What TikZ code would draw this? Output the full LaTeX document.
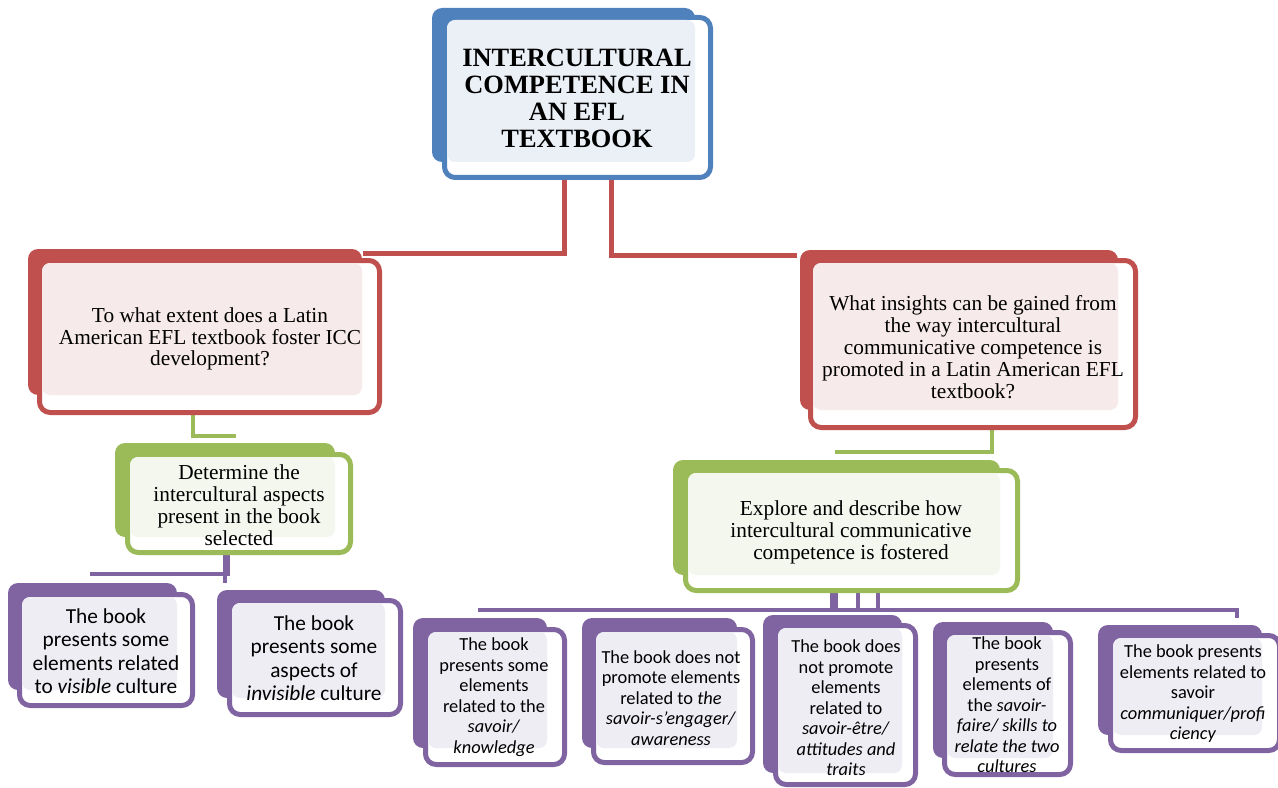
\documentclass[tikz,border=0pt]{standalone}
\usepackage{fontspec}
\setmainfont{Liberation Serif}
\newfontfamily\calfont{Carlito}
\usetikzlibrary{calc,fit}
\definecolor{bblue}{HTML}{4F81BD}
\definecolor{bbluelight}{HTML}{EBF0F7}
\definecolor{bred}{HTML}{C0504D}
\definecolor{bredlight}{HTML}{F7EAEA}
\definecolor{bgreen}{HTML}{9BBB59}
\definecolor{bgreenlight}{HTML}{F4F7EE}
\definecolor{bpurple}{HTML}{8064A2}
\definecolor{bpurplelight}{HTML}{EFEDF4}
\pgfdeclarelayer{bg}
\pgfsetlayers{bg,main}
\tikzset{
  backbox/.style={fill=#1, rounded corners=7.5pt, inner sep=0pt, outer sep=0pt},
  frontbox/.style={draw=#1, fill=white, line width=3.75pt, rounded corners=8pt, inner sep=0pt, outer sep=0pt},
  ttl/.style={align=center, inner sep=0pt, font=\bfseries\fontsize{19.8}{20.3}\selectfont},
  qtxt/.style={align=center, inner sep=0pt, font=\fontsize{16}{16.4}\selectfont},
  ptxt/.style={align=center, inner sep=0pt, font=\calfont\fontsize{16}{17.6}\selectfont},
  stxt/.style={align=center, inner sep=0pt, font=\calfont\fontsize{13.8}{15.4}\selectfont},
  redln/.style={draw=bred, line width=3.75pt},
  grnln/.style={draw=bgreen, line width=3pt},
  purln/.style={draw=bpurple, line width=3.6pt},
}
\newcommand\mkbox[6]{%
  \coordinate (#1-d1) at (#3);
  \coordinate (#1-d2) at (#4);
  \coordinate (#1-o1) at ($(#5)+(2.5,2.5)$);
  \coordinate (#1-o2) at ($(#6)+(-2.5,-2.5)$);
  \node[backbox=#2, fit=(#1-d1)(#1-d2)] (#1-back) {};
  \node[frontbox=#2, fit=(#1-o1)(#1-o2)] (#1) {};
  \fill[#2light, rounded corners=6pt] ($(#1-o1)+(2.5,2.5)$) rectangle (#1-d2);
}
\begin{document}
\begin{tikzpicture}[x=0.75pt, y=-0.75pt]
\useasboundingbox (0,0) rectangle (1278,788);

% boxes
\mkbox{title}{bblue}{432,8}{695,162}{442,15}{713,180}
\mkbox{q1}{bred}{28,249}{362,395}{37,258}{382,415}
\mkbox{q2}{bred}{800,250}{1118,410}{808,258}{1138,430}
\mkbox{g1}{bgreen}{115,443}{335,537}{125,452}{353,555}
\mkbox{g2}{bgreen}{673,460}{1000,575}{683,468}{1020,593}
\mkbox{p1}{bpurple}{8,583}{177,690}{17,592}{195,708}
\mkbox{p2}{bpurple}{217,590}{385,698}{227,598}{403,717}
\mkbox{p3}{bpurple}{413,618}{547,748}{423,627}{567,767}
\mkbox{p4}{bpurple}{582,618}{737,748}{591,627}{755,765}
\mkbox{p5}{bpurple}{763,615}{902,773}{773,623}{918,787}
\mkbox{p6}{bpurple}{933,622}{1053,758}{942,630}{1073,777}
\mkbox{p7}{bpurple}{1098,625}{1262,735}{1108,633}{1282,753}

% texts
\node[ttl] (title-t) at (577,98) {INTERCULTURAL\\COMPETENCE IN\\AN EFL\\TEXTBOOK};
\node[qtxt] (q1-t) at (210,339) {To what extent does a Latin\\American EFL textbook foster ICC\\development?};
\node[qtxt] (q2-t) at (973,347) {What insights can be gained from\\the way intercultural\\communicative competence is\\promoted in a Latin American EFL\\textbook?};
\node[qtxt] (g1-t) at (239,505) {Determine the\\intercultural aspects\\present in the book\\selected};
\node[qtxt] (g2-t) at (851,532) {Explore and describe how\\intercultural communicative\\competence is fostered};
\node[ptxt] (p1-t) at (106,651) {The book\\presents some\\elements related\\to \textit{visible} culture};
\node[ptxt] (p2-t) at (314,658) {The book\\presents some\\aspects of\\\textit{invisible} culture};
\node[stxt] (p3-t) at (494,697) {The book\\presents some\\elements\\related to the\\\textit{savoir/}\\\textit{knowledge}};
\node[stxt] (p4-t) at (671,698) {The book does not\\promote elements\\related to \textit{the}\\\textit{savoir-s’engager/}\\\textit{awareness}};
\node[stxt] (p5-t) at (846,708) {The book does\\not promote\\elements\\related to\\\textit{savoir-être/}\\\textit{attitudes and}\\\textit{traits}};
\node[stxt] (p6-t) at (1007,705) {The book\\presents\\elements of\\the \textit{savoir-}\\\textit{faire/ skills to}\\\textit{relate the two}\\\textit{cultures}};
\node[stxt] (p7-t) at (1193,694) {The book presents\\elements related to\\savoir\\\textit{communiquer/profi}\\\textit{ciency}};

% connectors (behind boxes)
\begin{pgfonlayer}{bg}
\draw[redln] ($(title.south)+(-13.5,-10)$) |- ($(q1-back.north east)+(1,4)$);
\draw[redln] ($(title.south)+(33.5,-10)$) |- ($(q2-back.north west)+(-3,5)$);
\draw[grnln] ($(q1.south)+(-16.5,-8)$) |- ($(g1-back.north)+(11,-7)$);
\draw[grnln] ($(q2.south)+(19,-2)$) |- ($(g2-back.north)+(-1.5,-8)$);
\draw[purln] ($(g1.south)+(-14,-4)$) -- ($(g1.south |- p1-back.north)+(-14,0)$);
\draw[purln] ($(g1.south)+(-11,-4)$) |- ($(p1-back.north)+(-2.5,-9)$);
\draw[purln, line width=6pt] ($(g2.south)+(-17.5,-10)$) -- ($(g2.south)+(-17.5,19.5)$);
\draw[purln] ($(g2.south)+(6.5,-10)$) -- ($(g2.south)+(6.5,19.5)$);
\draw[purln] ($(g2.south)+(26.5,-10)$) -- ($(g2.south)+(26.5,19.5)$);
\draw[purln] ($(p3-back.north)+(-2,-8)$) -| ($(p7-back.north)+(57,-7)$);
\end{pgfonlayer}
\end{tikzpicture}
\end{document}
